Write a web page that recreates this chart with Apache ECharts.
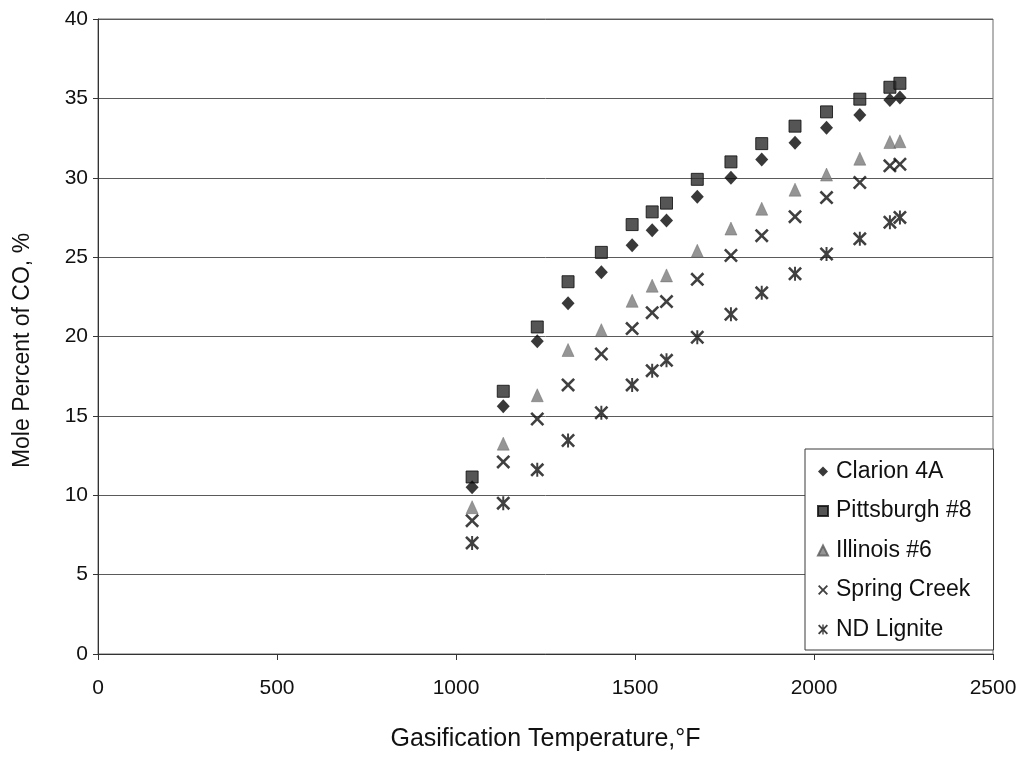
<!DOCTYPE html>
<html>
<head>
<meta charset="utf-8">
<script src="https://cdn.jsdelivr.net/npm/echarts@6/dist/echarts.min.js"></script>
<style>
  html, body { margin: 0; padding: 0; background: #ffffff; }
  #chart { width: 1027px; height: 757px; }
</style>
</head>
<body>
<div id="chart"></div>
<script>
// Gasification temperature (°F) for each measurement
const temperatures = [1045, 1132, 1227, 1313, 1406, 1492, 1548, 1588, 1674, 1768, 1854, 1947, 2035, 2128, 2212, 2240];

// Mole percent of CO for each coal
const clarion4A   = [10.5, 15.6, 19.7, 22.1, 24.05, 25.75, 26.7, 27.3, 28.8, 30.0, 31.15, 32.2, 33.15, 33.95, 34.9, 35.05];
const pittsburgh8 = [11.15, 16.55, 20.6, 23.45, 25.3, 27.05, 27.85, 28.4, 29.9, 31.0, 32.15, 33.25, 34.15, 34.95, 35.7, 35.95];
const illinois6   = [9.25, 13.25, 16.3, 19.15, 20.4, 22.25, 23.2, 23.85, 25.4, 26.8, 28.05, 29.25, 30.2, 31.2, 32.25, 32.3];
const springCreek = [8.4, 12.1, 14.8, 16.95, 18.9, 20.5, 21.5, 22.2, 23.6, 25.1, 26.35, 27.55, 28.75, 29.7, 30.75, 30.85];
const ndLignite   = [7.0, 9.5, 11.6, 13.45, 15.2, 16.95, 17.85, 18.5, 19.95, 21.4, 22.75, 23.95, 25.2, 26.15, 27.2, 27.5];

const seriesNames = ['Clarion 4A', 'Pittsburgh #8', 'Illinois #6', 'Spring Creek', 'ND Lignite'];

// Axis ranges
const xMin = 0, xMax = 2500, xStep = 500;
const yMin = 0, yMax = 40, yStep = 5;

// Marker shapes: a thin "x" and a six-armed asterisk
const crossBody = 'M0,1.3L1.3,0L5,3.7L8.7,0L10,1.3L6.3,5L10,8.7L8.7,10L5,6.3L1.3,10L0,8.7L3.7,5Z';
const crossPath = 'path://' + crossBody;
const asteriskPath = 'path://' + crossBody + 'M4.3,0L5.7,0L5.7,10L4.3,10Z';

const FONT = '"Liberation Sans", Arial, sans-serif';
const pairs = (ys) => temperatures.map((t, i) => [t, ys[i]]);

const chart = echarts.init(document.getElementById('chart'), null, { renderer: 'canvas' });

chart.setOption({
  animation: false,
  backgroundColor: '#ffffff',
  textStyle: { fontFamily: FONT, color: '#111111' },
  grid: {
    left: 98, right: 34, top: 19, bottom: 103,
    show: true, borderColor: '#6a6a6a', borderWidth: 1, backgroundColor: 'transparent'
  },
  legend: {
    orient: 'vertical',
    left: 805, top: 449,
    padding: [11, 22, 9, 12],
    itemGap: 16.5,
    itemWidth: 10, itemHeight: 10,
    backgroundColor: '#ffffff',
    borderColor: '#3a3a3a', borderWidth: 1, borderRadius: 0,
    textStyle: { fontFamily: FONT, fontSize: 23, color: '#111111', padding: [0, 0, 0, 3] },
    data: seriesNames
  },
  xAxis: {
    type: 'value',
    min: xMin, max: xMax, interval: xStep,
    name: 'Gasification Temperature,°F',
    nameLocation: 'middle', nameGap: 73,
    nameTextStyle: { fontFamily: FONT, fontSize: 25, color: '#111111' },
    axisLine: { show: true, onZero: false, lineStyle: { color: '#333333', width: 1 } },
    axisTick: { show: true, inside: false, length: 6, lineStyle: { color: '#333333' } },
    axisLabel: { fontFamily: FONT, fontSize: 21, color: '#111111', margin: 24, formatter: (v) => String(v) },
    splitLine: { show: false }
  },
  yAxis: {
    type: 'value',
    min: yMin, max: yMax, interval: yStep,
    name: 'Mole Percent of CO, %',
    nameLocation: 'middle', nameGap: 64, nameRotate: 90,
    nameTextStyle: { fontFamily: FONT, fontSize: 23, color: '#111111', padding: [0, 28, 0, 0] },
    axisLine: { show: true, onZero: false, lineStyle: { color: '#333333', width: 1 } },
    axisTick: { show: true, inside: false, length: 5, lineStyle: { color: '#333333' } },
    axisLabel: { fontFamily: FONT, fontSize: 21, color: '#111111', margin: 10 },
    splitLine: { show: true, lineStyle: { color: '#5a5a5a', width: 1 } }
  },
  series: [
    {
      name: seriesNames[0], type: 'scatter', data: pairs(clarion4A),
      symbol: 'diamond', symbolSize: [13, 14],
      itemStyle: { color: '#080808' }, z: 5
    },
    {
      name: seriesNames[1], type: 'scatter', data: pairs(pittsburgh8),
      symbol: 'rect', symbolSize: 12,
      itemStyle: { color: '#2a2a2a', borderColor: '#0a0a0a', borderWidth: 1 }, z: 4
    },
    {
      name: seriesNames[2], type: 'scatter', data: pairs(illinois6),
      symbol: 'triangle', symbolSize: [12, 13],
      itemStyle: { color: '#7a7a7a', borderColor: '#5a5a5a', borderWidth: 0.5 }, z: 3
    },
    {
      name: seriesNames[3], type: 'scatter', data: pairs(springCreek),
      symbol: crossPath, symbolSize: 14,
      itemStyle: { color: '#101010' }, z: 2
    },
    {
      name: seriesNames[4], type: 'scatter', data: pairs(ndLignite),
      symbol: asteriskPath, symbolSize: 14,
      itemStyle: { color: '#101010' }, z: 1
    }
  ]
});
</script>
</body>
</html>
